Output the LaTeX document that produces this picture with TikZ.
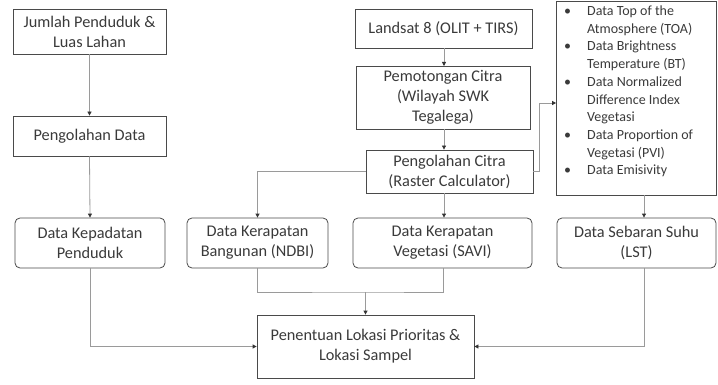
\documentclass[tikz,border=0pt]{standalone}
\usepackage{fontspec}
\setmainfont{Carlito}
\usetikzlibrary{arrows.meta,calc}
\definecolor{txt}{HTML}{3A3A3A}
\definecolor{brd}{HTML}{4A4A4A}
\definecolor{ln}{HTML}{9A9A9A}
\tikzset{
  x=1pt,y=-1pt,
  box/.style={draw=brd,line width=0.8pt,text=txt,align=center,inner sep=2pt,
    font=\fontsize{16.3}{20}\selectfont},
  rbox/.style={box,rounded corners=5pt},
  conn/.style={draw=ln,line width=0.8pt},
  arr/.style={conn,-{Triangle[length=4pt,width=4pt,fill=black!80,color=black!80]}},
}
\begin{document}
\begin{tikzpicture}
\useasboundingbox (0,0) rectangle (718,385);
\node[box,minimum width=153,minimum height=45] (jp) at (89.5,31.5) {Jumlah Penduduk \&\\Luas Lahan};
\node[box,minimum width=153,minimum height=40] (pd) at (89.5,136) {Pengolahan Data};
\node[rbox,minimum width=150,minimum height=50] (dkp) at (90,243) {Data Kepadatan\\Penduduk};
\node[rbox,minimum width=141,minimum height=50] (ndbi) at (257.5,243) {Data Kerapatan\\Bangunan (NDBI)};
\node[rbox,minimum width=179,minimum height=50] (savi) at (442.5,243) {Data Kerapatan\\Vegetasi (SAVI)};
\node[rbox,minimum width=159,minimum height=50] (lst) at (636.5,243) {Data Sebaran Suhu\\(LST)};
\node[box,minimum width=177,minimum height=39] (ls) at (443.5,28.5) {Landsat 8 (OLIT + TIRS)};
\node[box,minimum width=174,minimum height=63] (pc1) at (443,97.5) {Pemotongan Citra\\(Wilayah SWK\\Tegalega)};
\node[box,minimum width=167,minimum height=43] (pc2) at (449.5,171.5) {Pengolahan Citra\\(Raster Calculator)};
\node[box,minimum width=160,minimum height=194] (bl) at (636.5,98) {};
\node[text=txt,anchor=north west,inner sep=0pt,align=left,font=\fontsize{14}{17.7}\selectfont] (bt) at (564,3)
{%
\begin{tabular}{@{}p{23pt}@{}l@{}}
\textbullet & Data Top of the\\
 & Atmosphere (TOA)\\
\textbullet & Data Brightness\\
 & Temperature (BT)\\
\textbullet & Data Normalized\\
 & Difference Index\\
 & Vegetasi\\
\textbullet & Data Proportion of\\
 & Vegetasi (PVI)\\
\textbullet & Data Emisivity
\end{tabular}};
\node[box,minimum width=217,minimum height=63] (pl) at (365.5,346.5) {Penentuan Lokasi Prioritas \&\\Lokasi Sampel};
% connectors
\draw[arr] (jp.south) -- (pd.north);
\draw[arr] (pd.south) -- (dkp.north);
\draw[arr] (ls.south -| 444,0) -- (444,66);
\draw[arr] (pc1.south -| 444,0) -- (pc2.north -| 444,0);
\draw[arr] (pc2.south -| 444,0) -- (savi.north -| 444,0);
\draw[arr] (pc2.west) -| (ndbi.north);
\coordinate (rb) at (539,103);
\draw[arr] (pc2.east) -| (rb) -- (rb -| bl.west);
\draw[arr] (bl.south -| 644,0) -- (lst.north -| 644,0);
\draw[arr] (dkp.south) |- (pl.west);
\draw[arr] (lst.south -| 644,0) |- (pl.east);
\coordinate (mj) at (365.5,292);
\draw[conn] (ndbi.south) |- (mj) -| (savi.south -| 443,0);
\draw[arr] (mj) -- (pl.north);
\end{tikzpicture}
\end{document}
